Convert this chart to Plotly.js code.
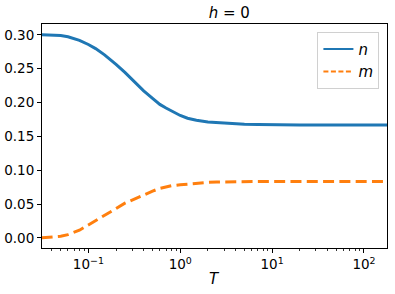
<!DOCTYPE html>
<html>
<head>
<meta charset="utf-8">
<script src="https://cdn.plot.ly/plotly-3.0.1.min.js"></script>
<style>html,body{margin:0;padding:0;background:#fff}#chart{width:395px;height:294px}</style>
</head>
<body>
<div id="chart"></div>
<script>
const T = [0.031, 0.04, 0.05, 0.06, 0.07, 0.08, 0.1, 0.12, 0.15, 0.18, 0.2, 0.25, 0.3, 0.35, 0.4, 0.5, 0.6, 0.7, 0.8, 1, 1.2, 1.5, 2, 2.5, 3, 4, 5, 7, 10, 20, 50, 100, 178];
const nVals = [0.300, 0.2996, 0.2991, 0.2972, 0.2948, 0.2917, 0.2857, 0.2796, 0.2704, 0.2620, 0.2564, 0.2446, 0.2339, 0.2248, 0.2172, 0.2060, 0.1972, 0.1918, 0.1872, 0.1808, 0.1768, 0.1738, 0.1712, 0.1702, 0.1695, 0.1686, 0.1680, 0.1674, 0.1670, 0.1667, 0.1667, 0.1667, 0.1667];
const mVals = [0.000, 0.0008, 0.0024, 0.0048, 0.0079, 0.0113, 0.0191, 0.0252, 0.0331, 0.0396, 0.0433, 0.0512, 0.0562, 0.0603, 0.0634, 0.0690, 0.0731, 0.0751, 0.0769, 0.0784, 0.0794, 0.0808, 0.0820, 0.0824, 0.0827, 0.0829, 0.0831, 0.0832, 0.0833, 0.0833, 0.0833, 0.0833, 0.0833];
const seriesNames = ['<i>n</i>', '<i>m</i>'];
const xTickVals = [0.1, 1, 10, 100];
const xTickText = ['10<sup>\u22121</sup>', '10<sup>0</sup>', '10<sup>1</sup>', '10<sup>2</sup>'];
const yTickVals = [0, 0.05, 0.10, 0.15, 0.20, 0.25, 0.30];
const yTickText = ['0.00', '0.05', '0.10', '0.15', '0.20', '0.25', '0.30'];

const minorVals = [];
for (let e = -2; e <= 2; e++) {
  for (let k = 2; k <= 9; k++) minorVals.push(k * Math.pow(10, e));
}

const font = {family: 'DejaVu Sans, sans-serif', size: 13.5, color: '#000'};
const colors = ['#1f77b4', '#ff7f0e'];

const traces = [
  {x: T, y: nVals, mode: 'lines', showlegend: false, line: {color: colors[0], width: 3}},
  {x: T, y: mVals, mode: 'lines', showlegend: false, line: {color: colors[1], width: 3, dash: '11px,5.3px'}},
  {x: [null], y: [null], mode: 'lines', name: seriesNames[0], line: {color: colors[0], width: 2}},
  {x: [null], y: [null], mode: 'lines', name: seriesNames[1], line: {color: colors[1], width: 2, dash: '5px,2.5px'}}
];

const layout = {
  width: 395, height: 294,
  margin: {l: 42, r: 8, t: 24, b: 46, pad: 0},
  paper_bgcolor: '#fff', plot_bgcolor: '#fff',
  font: font,
  showlegend: true,
  title: {text: '<i>h</i> = 0', font: {family: 'DejaVu Sans, sans-serif', size: 15, color: '#000'},
          x: 0.543, xanchor: 'center', y: 1 - 13/294, yanchor: 'middle', xref: 'paper', yref: 'container'},
  xaxis: {
    type: 'log', range: [Math.log10(0.0313), Math.log10(178)],
    tickmode: 'array', tickvals: xTickVals, ticktext: xTickText,
    ticks: 'outside', ticklen: 4, tickwidth: 1, tickcolor: '#000',
    minor: {tickmode: 'array', tickvals: minorVals, ticks: 'outside', ticklen: 2, tickwidth: 0.8, tickcolor: '#000', showgrid: false},
    showline: true, linecolor: '#000', linewidth: 1, mirror: true,
    showgrid: false, zeroline: false,
    tickfont: font
  },
  yaxis: {
    range: [-0.015, 0.316],
    tickmode: 'array', tickvals: yTickVals, ticktext: yTickText,
    ticks: 'outside', ticklen: 4, tickwidth: 1, tickcolor: '#000',
    showline: true, linecolor: '#000', linewidth: 1, mirror: true,
    showgrid: false, zeroline: false,
    tickfont: font
  },
  legend: {
    x: 0.978, y: 0.965, xanchor: 'right', yanchor: 'top',
    bgcolor: 'rgba(255,255,255,0.8)', bordercolor: '#d0d0d0', borderwidth: 1,
    font: {family: 'DejaVu Sans, sans-serif', size: 15, color: '#000'},
    tracegroupgap: 0, itemwidth: 30
  },
  annotations: [
    {text: '<i>T</i>', xref: 'paper', yref: 'paper', x: 0.5, y: 0, yshift: -31, xanchor: 'center', yanchor: 'middle',
     showarrow: false, font: {family: 'DejaVu Sans, sans-serif', size: 15, color: '#000'}}
  ]
};

Plotly.newPlot('chart', traces, layout, {displayModeBar: false, staticPlot: true});
</script>
</body>
</html>
